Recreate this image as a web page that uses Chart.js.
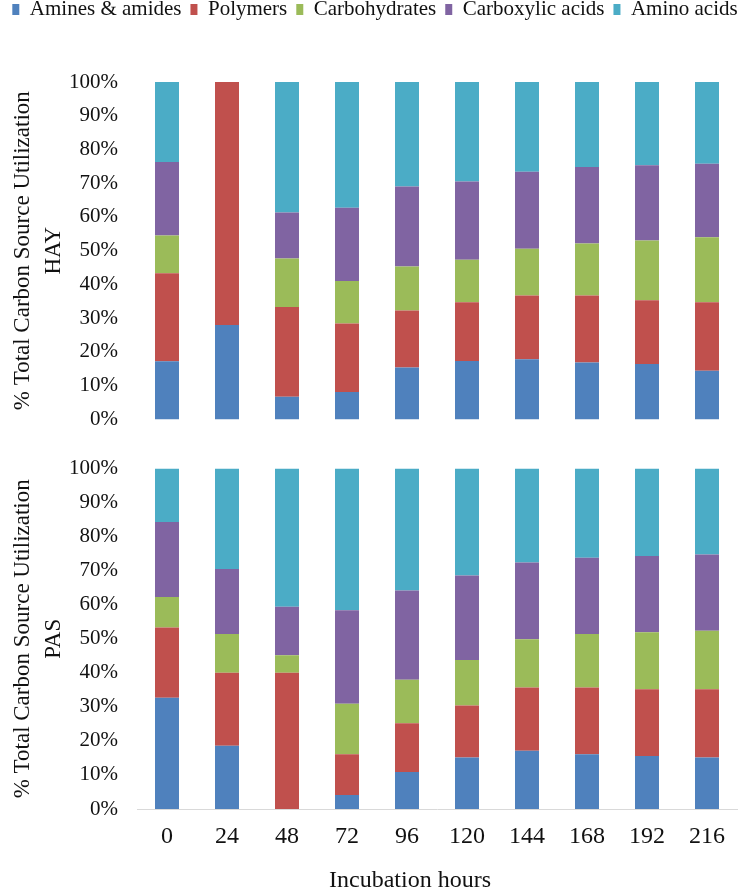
<!DOCTYPE html>
<html><head><meta charset="utf-8">
<script src="https://cdn.jsdelivr.net/npm/chart.js@4.4.0/dist/chart.umd.min.js"></script>
<style>
html,body{margin:0;padding:0;background:#fff;overflow:hidden;width:750px;height:891px;}
#top{position:absolute;left:0;top:-10px;}
#bottom{position:absolute;left:0;top:437px;}
</style></head><body>
<canvas id="top" width="750" height="461"></canvas>
<canvas id="bottom" width="750" height="456"></canvas>
<script>
const categories = ['0','24','48','72','96','120','144','168','192','216'];
const seriesNames = ['Amines & amides','Polymers','Carbohydrates','Carboxylic acids','Amino acids'];
const seriesColors = ['#4F81BD','#C0504D','#9BBB59','#8064A2','#4BACC6'];

// HAY (top panel), % of total
const hayAmines      = [17.2, 28.0,  6.7,  8.1, 15.4, 17.3, 17.8, 16.9, 16.4, 14.4];
const hayPolymers    = [26.1, 72.0, 26.6, 20.3, 16.9, 17.4, 18.9, 19.8, 18.9, 20.3];
const hayCarbs       = [11.2,  0.0, 14.4, 12.6, 13.0, 12.6, 13.9, 15.4, 17.7, 19.3];
const hayCarboxylic  = [21.8,  0.0, 13.6, 21.7, 23.7, 23.2, 22.8, 22.7, 22.3, 21.8];
const hayAmino       = [23.7,  0.0, 38.7, 37.3, 31.0, 29.5, 26.6, 25.2, 24.7, 24.2];

// PAS (bottom panel), % of total
const pasAmines      = [32.7, 18.6,  0.0,  4.1, 10.9, 15.1, 17.1, 16.1, 15.6, 15.1];
const pasPolymers    = [20.6, 21.4, 40.0, 12.0, 14.3, 15.3, 18.6, 19.6, 19.6, 20.1];
const pasCarbs       = [ 9.0, 11.4,  5.2, 14.8, 12.8, 13.4, 14.2, 15.7, 16.7, 17.2];
const pasCarboxylic  = [22.0, 19.1, 14.2, 27.5, 26.2, 24.8, 22.5, 22.4, 22.4, 22.4];
const pasAmino       = [15.7, 29.5, 40.6, 41.6, 35.8, 31.4, 27.6, 26.2, 25.7, 25.2];

const yTitleMain = '% Total Carbon Source Utilization';
const xTitle = 'Incubation hours';

const FAM = "'Liberation Serif', 'Times New Roman', serif";
const TXT = '#111';

function makeDatasets(arrs){
  return seriesNames.map((n,i)=>({
    label:n, data:arrs[i], backgroundColor:seriesColors[i], borderWidth:0,
    barPercentage:0.5, categoryPercentage:0.8
  }));
}

function makeY(line2){
  return {
    stacked:true, min:0, max:100, position:'left',
    ticks:{stepSize:10, padding:19, color:TXT, font:{family:FAM,size:21}, callback:v=>v+'%'},
    grid:{display:false, drawTicks:false}, border:{display:false},
    title:{display:true, text:[yTitleMain, line2], color:TXT,
      font:{family:FAM,size:23,lineHeight:1.35}, padding:{top:7.5,bottom:0}},
    afterFit(s){ s.width = 137; }
  };
}
const rightSpacer = {
  position:'right', display:true,
  grid:{display:false, drawTicks:false}, border:{display:false},
  ticks:{display:false}, afterFit(s){ s.width = 13; }
};

const legendHeight = {
  id:'legendHeight',
  beforeInit(chart){
    if(!chart.legend) return;
    const fit = chart.legend.fit;
    chart.legend.fit = function(){ fit.call(this); this.height = 92; };
  }
};

new Chart(document.getElementById('top'), {
  type:'bar',
  data:{labels:categories, datasets:makeDatasets([hayAmines,hayPolymers,hayCarbs,hayCarboxylic,hayAmino])},
  options:{
    responsive:false, animation:false,
    layout:{padding:{top:0,bottom:0,left:0,right:0}},
    plugins:{
      tooltip:{enabled:false},
      legend:{display:true, position:'top', align:'center',
        labels:{boxWidth:7, boxHeight:11, padding:9, color:TXT, font:{family:FAM,size:21}}}
    },
    scales:{
      x:{stacked:true, display:false},
      y:makeY('HAY'),
      yR:rightSpacer
    }
  },
  plugins:[legendHeight]
});

new Chart(document.getElementById('bottom'), {
  type:'bar',
  data:{labels:categories, datasets:makeDatasets([pasAmines,pasPolymers,pasCarbs,pasCarboxylic,pasAmino])},
  options:{
    responsive:false, animation:false,
    layout:{padding:{top:0,bottom:0,left:0,right:0}},
    plugins:{tooltip:{enabled:false}, legend:{display:false}},
    scales:{
      x:{stacked:true,
        grid:{display:false, drawTicks:false},
        border:{display:true, color:'#d9d9d9', width:1},
        ticks:{padding:13.5, color:TXT, font:{family:FAM,size:24}, maxRotation:0, autoSkip:false},
        title:{display:true, text:xTitle + '\u00a0'.repeat(9), color:TXT,
          font:{family:FAM,size:24,lineHeight:1}, padding:{top:4.2,bottom:0}}
      },
      y:makeY('PAS'),
      yR:rightSpacer
    }
  }
});
</script>
</body></html>
